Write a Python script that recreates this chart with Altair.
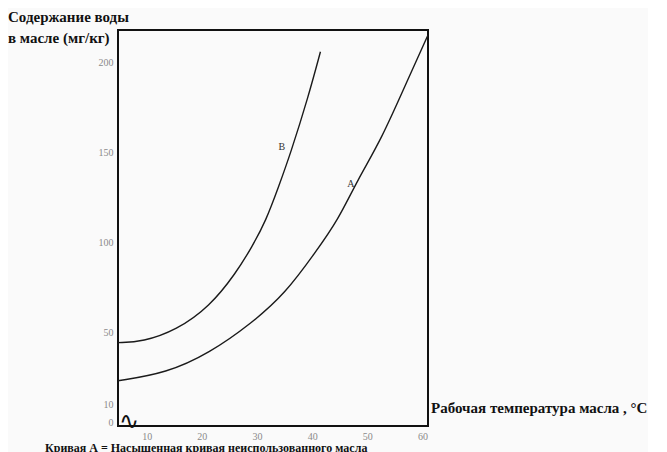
import altair as alt
import pandas as pd

# Curve B (upper) and curve A (lower): oil temperature (°C) vs water content (mg/kg)
b_temp = [4.8, 9.3, 15.4, 21.4, 26.2, 29.1, 31.6, 33.9, 36.1, 39.3, 41.5]
b_val = [44.1, 44.6, 51.1, 64.1, 82.8, 97.4, 111.7, 130.6, 149.4, 180.7, 205.7]
a_temp = [4.8, 13.6, 21.4, 29.1, 35.2, 40.5, 44.7, 48.2, 52.5, 57.3, 61.0]
a_val = [22.9, 27.2, 38.3, 55.0, 71.7, 93.9, 112.2, 134.4, 156.7, 190.0, 215.0]

x_ticks = [10, 20, 30, 40, 50, 60]
y_ticks = [0, 10, 50, 100, 150, 200]

curve_names = ["B", "A"]
label_temp = [34.5, 47.0]
label_val = [152.8, 132.2]

y_title_1 = "Содержание воды"
y_title_2 = "в масле (мг/кг)"
x_title = "Рабочая температура масла , °C"
caption = "Кривая А = Насыщенная кривая неиспользованного масла"

rows = [{"curve": "B", "t": t, "v": v, "o": i} for i, (t, v) in enumerate(zip(b_temp, b_val))]
rows += [{"curve": "A", "t": t, "v": v, "o": i} for i, (t, v) in enumerate(zip(a_temp, a_val))]
df = pd.DataFrame(rows)
lab = pd.DataFrame({"name": curve_names, "t": label_temp, "v": label_val})

SERIF = "Liberation Serif"
xs = alt.Scale(domain=[4.8, 61], nice=False, zero=False)
ys = alt.Scale(domain=[-2.2, 217.8], nice=False, zero=False)

lines = alt.Chart(df).mark_line(
    color="#1a1a1a", strokeWidth=1.4, interpolate="basis", clip=True
).encode(
    x=alt.X("t:Q", scale=xs, axis=alt.Axis(
        values=x_ticks, title=None, grid=False, ticks=False, domain=False,
        labelColor="#8a8a8a", labelFont=SERIF, labelFontSize=10, labelPadding=5)),
    y=alt.Y("v:Q", scale=ys, axis=alt.Axis(
        values=y_ticks, title=None, grid=False, ticks=False, domain=False,
        labelColor="#8a8a8a", labelFont=SERIF, labelFontSize=10, labelPadding=5)),
    detail="curve:N",
    order="o:Q",
)

labels = alt.Chart(lab).mark_text(
    font=SERIF, fontSize=10, color="#333333", align="center", baseline="middle"
).encode(x=alt.X("t:Q", scale=xs), y=alt.Y("v:Q", scale=ys), text="name:N")

one = pd.DataFrame({"k": [0]})

def deco(txt, x, y, size=13, bold=True, align="left", color="#111111"):
    return alt.Chart(one).mark_text(
        text=txt, font=SERIF, fontSize=size, fontWeight="bold" if bold else "normal",
        align=align, baseline="middle", color=color
    ).encode(x=alt.value(x), y=alt.value(y))

t1 = deco(y_title_1, -110, -13, size=15)
t2 = deco(y_title_2, -110, 8, size=15)
t3 = deco(x_title, 313, 378, size=15)
t4 = deco(caption, -73, 418, size=12)
squig = deco("∿", 1, 392, size=24, bold=False)

chart = alt.layer(lines, labels, t1, t2, t3, t4, squig).properties(
    width=310, height=396,
    autosize=alt.AutoSizeParams(type="none"),
    padding={"left": 110, "top": 22, "right": 220, "bottom": 26},
    background="#fafafa",
).configure_view(stroke="#111111", strokeWidth=2)

chart.save("out.html", embed_options={"renderer": "svg", "actions": False})
